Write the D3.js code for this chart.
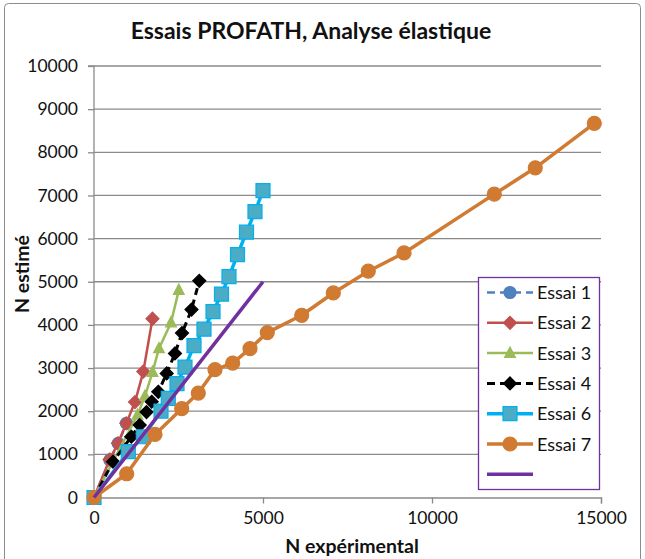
<!DOCTYPE html>
<html>
<head>
<meta charset="utf-8">
<script src="https://cdn.jsdelivr.net/npm/d3@7"></script>
<style>
  html, body { margin: 0; padding: 0; background: #fff; }
  svg { display: block; font-family: Lato, "Open Sans", sans-serif; }
</style>
</head>
<body>
<svg id="chart" width="645" height="559"></svg>
<script>
// Essais PROFATH — N estimé vs N expérimental, one array pair per test
const essai1X = [0, 470, 715, 960];
const essai1Y = [0, 870, 1255, 1720];

const essai2X = [0, 464, 710, 956, 1213, 1459, 1731];
const essai2Y = [0, 880, 1255, 1718, 2212, 2918, 4145];

const essai3X = [0, 1287, 1509, 1731, 1923, 2278, 2509];
const essai3Y = [0, 1911, 2351, 2906, 3455, 4053, 4806];

const essai4X = [0, 562, 1104, 1352, 1553, 1707, 1902, 2151, 2396, 2604, 2885, 3115];
const essai4Y = [0, 829, 1408, 1679, 1980, 2219, 2450, 2876, 3340, 3810, 4354, 5021];

const essai6X = [0, 1015, 1459, 1982, 2198, 2456, 2692, 2959, 3254, 3521, 3772, 3994, 4246, 4512, 4763, 5000];
const essai6Y = [0, 1061, 1408, 2003, 2297, 2640, 3022, 3520, 3902, 4307, 4713, 5118, 5628, 6149, 6623, 7110];

const essai7X = [0, 967, 1805, 2595, 3086, 3580, 4103, 4615, 5127, 6145, 7080, 8115, 9172, 11843, 13056, 14802];
const essai7Y = [0, 550, 1462, 2058, 2420, 2963, 3116, 3450, 3821, 4223, 4740, 5244, 5668, 7030, 7640, 8671];

// reference line N estimé = N expérimental
const refX = [0, 5000];
const refY = [0, 5000];

const seriesNames = ["Essai 1", "Essai 2", "Essai 3", "Essai 4", "Essai 6", "Essai 7", ""];
const xTicks = [0, 5000, 10000, 15000];
const yTicks = [0, 1000, 2000, 3000, 4000, 5000, 6000, 7000, 8000, 9000, 10000];

const titleText = "Essais PROFATH, Analyse élastique";
const xTitle = "N expérimental";
const yTitle = "N estimé";

const svg = d3.select("#chart");

// outer chart frame
svg.append("rect")
  .attr("x", 4.5).attr("y", 3.5).attr("width", 636).attr("height", 620)
  .attr("rx", 4).attr("fill", "#fff").attr("stroke", "#8c8c8c").attr("stroke-width", 1);

const plot = { left: 94, right: 601, top: 66, bottom: 497.5 };
const x = d3.scaleLinear().domain([0, 15000]).range([plot.left, plot.right]);
const y = d3.scaleLinear().domain([0, 10000]).range([plot.bottom, plot.top]);

// horizontal gridlines
svg.append("g")
  .selectAll("line")
  .data(yTicks.filter(d => d > 0))
  .join("line")
  .attr("x1", plot.left).attr("x2", plot.right)
  .attr("y1", d => y(d)).attr("y2", d => y(d))
  .attr("stroke", "#8a8a8a").attr("stroke-width", 1.3);

// axes
const yAxis = d3.axisLeft(y).tickValues(yTicks).tickSize(6).tickPadding(10).tickFormat(d3.format("d"));
const xAxis = d3.axisBottom(x).tickValues(xTicks).tickSize(6).tickPadding(8).tickFormat(d3.format("d"));

const gy = svg.append("g").attr("transform", `translate(${plot.left},0)`).call(yAxis);
const gx = svg.append("g").attr("transform", `translate(0,${plot.bottom})`).call(xAxis);
[gx, gy].forEach(g => {
  g.select(".domain").attr("stroke", "#8a8a8a").attr("stroke-width", 1.3);
  g.selectAll(".tick line").attr("stroke", "#8a8a8a").attr("stroke-width", 1.3);
  g.selectAll(".tick text").attr("fill", "#111").attr("font-size", 17.5)
    .attr("font-family", "Lato, 'Open Sans', sans-serif");
});
gy.select(".domain").attr("d", `M-6,${plot.top}H0V${plot.bottom}H-6`);

// titles
svg.append("text").attr("x", 311).attr("y", 39).attr("text-anchor", "middle")
  .attr("font-size", 23).attr("font-weight", "bold").attr("fill", "#111").text(titleText);
svg.append("text").attr("x", 352).attr("y", 553).attr("text-anchor", "middle")
  .attr("font-size", 19.5).attr("font-weight", "bold").attr("fill", "#111").text(xTitle);
svg.append("text").attr("transform", "translate(29,274) rotate(-90)").attr("text-anchor", "middle")
  .attr("font-size", 19.5).attr("font-weight", "bold").attr("fill", "#111").text(yTitle);

const zip = (xs, ys) => xs.map((v, i) => [v, ys[i]]);
const line = d3.line().x(d => x(d[0])).y(d => y(d[1]));

const series = [
  { name: seriesNames[0], pts: zip(essai1X, essai1Y), color: "#4F81BD", width: 2.5, dash: "7,4", marker: "circle", fill: "#4F81BD", stroke: "#4F81BD", size: 6 },
  { name: seriesNames[1], pts: zip(essai2X, essai2Y), color: "#C0504D", width: 2.5, dash: null, marker: "diamond", fill: "#C0504D", stroke: "#C0504D", size: 6.5 },
  { name: seriesNames[2], pts: zip(essai3X, essai3Y), color: "#9BBB59", width: 2.5, dash: null, marker: "triangle", fill: "#9BBB59", stroke: "#9BBB59", size: 6 },
  { name: seriesNames[3], pts: zip(essai4X, essai4Y), color: "#000", width: 3, dash: "7,5", marker: "diamond", fill: "#000", stroke: "#000", size: 6.5 },
  { name: seriesNames[4], pts: zip(essai6X, essai6Y), color: "#00B0F0", width: 3.5, dash: null, marker: "square", fill: "#4BACC6", stroke: "#00B0F0", size: 7 },
  { name: seriesNames[5], pts: zip(essai7X, essai7Y), color: "#D07A32", width: 3.5, dash: null, marker: "circle", fill: "#D07A32", stroke: "#D07A32", size: 7 },
  { name: seriesNames[6], pts: zip(refX, refY), color: "#7030A0", width: 3.5, dash: null, marker: null }
];

function markerPath(type, s) {
  if (type === "circle") return d3.symbol(d3.symbolCircle, Math.PI * s * s)();
  if (type === "diamond") return `M0,${-s}L${s},0L0,${s}L${-s},0Z`;
  if (type === "triangle") return `M0,${-s}L${s * 0.9},${s * 0.7}L${-s * 0.9},${s * 0.7}Z`;
  if (type === "square") return `M${-s},${-s}H${s}V${s}H${-s}Z`;
  return "";
}

// draw in stacking order: first series lowest
series.forEach(s => {
  const g = svg.append("g");
  g.append("path").attr("d", line(s.pts)).attr("fill", "none")
    .attr("stroke", s.color).attr("stroke-width", s.width)
    .attr("stroke-dasharray", s.dash).attr("stroke-linejoin", "round");
  if (s.marker) {
    g.selectAll("path.m").data(s.pts).join("path").attr("class", "m")
      .attr("transform", d => `translate(${x(d[0])},${y(d[1])})`)
      .attr("d", markerPath(s.marker, s.size))
      .attr("fill", s.fill).attr("stroke", s.stroke).attr("stroke-width", 1.2);
  }
});

// legend
const lg = svg.append("g");
lg.append("rect").attr("x", 478.5).attr("y", 277.5).attr("width", 121).attr("height", 212)
  .attr("fill", "#fff").attr("stroke", "#7030A0").attr("stroke-width", 1.3);
series.forEach((s, i) => {
  const cy = 292.5 + i * 30.3;
  const item = lg.append("g").attr("transform", `translate(0,${cy})`);
  item.append("line").attr("x1", 487).attr("x2", 533).attr("y1", 0).attr("y2", 0)
    .attr("stroke", s.color).attr("stroke-width", s.width)
    .attr("stroke-dasharray", s.dash ? "8,5" : null);
  if (s.marker) {
    item.append("path").attr("transform", "translate(510,0)")
      .attr("d", markerPath(s.marker, s.size))
      .attr("fill", s.fill).attr("stroke", s.stroke).attr("stroke-width", 1.2);
  }
  item.append("text").attr("x", 537).attr("y", 6.5).attr("font-size", 18).attr("fill", "#111").text(s.name);
});
</script>
</body>
</html>
